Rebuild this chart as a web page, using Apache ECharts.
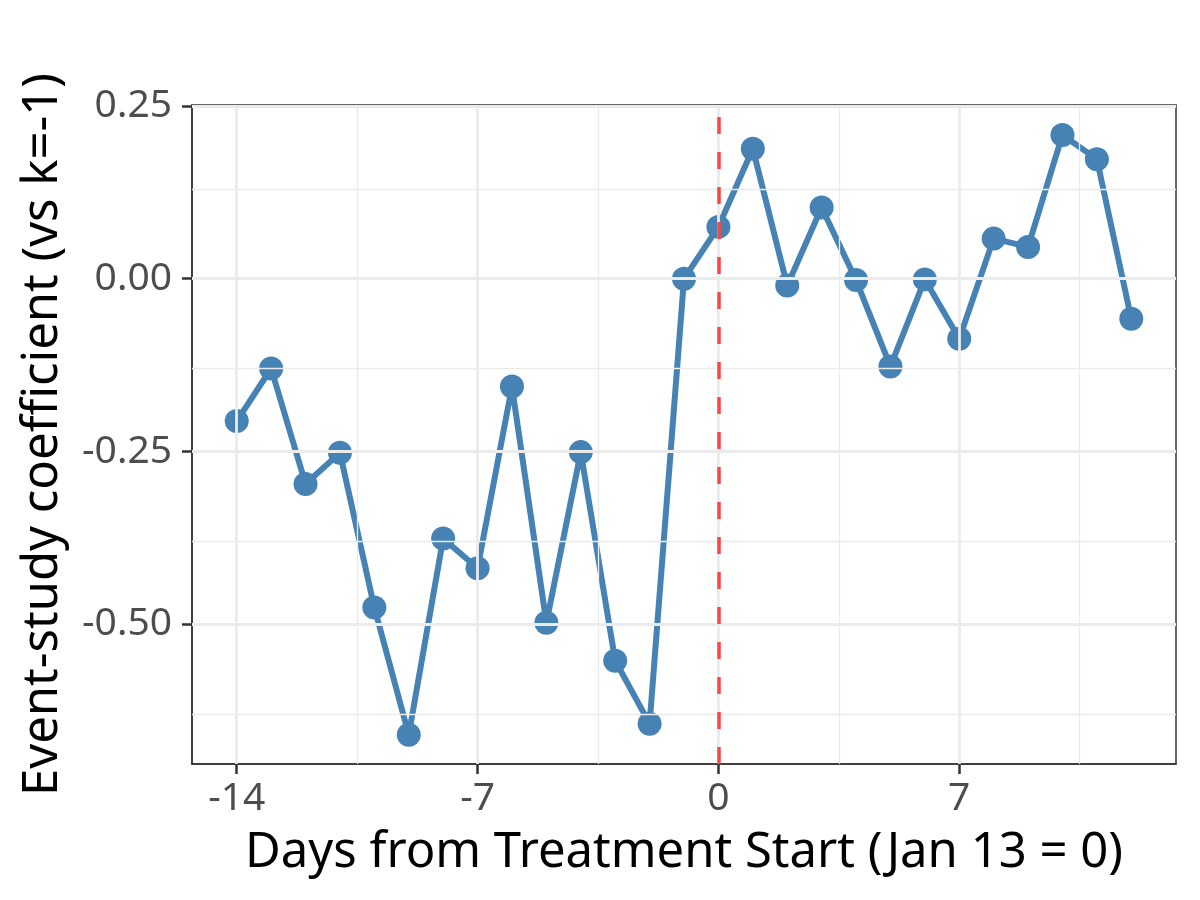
<!DOCTYPE html>
<html>
<head>
<meta charset="utf-8">
<script src="https://cdn.jsdelivr.net/npm/echarts@6/dist/echarts.min.js"></script>
<style>html,body{margin:0;padding:0;background:#fff}#c{width:1200px;height:900px}</style>
</head>
<body>
<div id="c"></div>
<script>
const days = [-14,-13,-12,-11,-10,-9,-8,-7,-6,-5,-4,-3,-2,-1,0,1,2,3,4,5,6,7,8,9,10,11,12];
const coef = [-0.206,-0.130,-0.297,-0.252,-0.476,-0.660,-0.376,-0.419,-0.156,-0.498,-0.251,-0.553,-0.644,0.000,0.075,0.188,-0.010,0.103,-0.002,-0.127,-0.001,-0.087,0.058,0.046,0.208,0.173,-0.058];
const xTicks = [-14,-7,0,7];
const xMinor = [-10.5,-3.5,3.5,10.5];
const yTicks = [-0.5,-0.25,0,0.25];
const yMinor = [-0.625,-0.375,-0.125,0.125];
const treatDay = 0;
const xRange = [-15.3, 13.3];
const yRange = [-0.7024, 0.2514];

const FONT = '"Noto Sans",sans-serif';
const GRID = '#ebebeb';

const gridLines = [];
xMinor.forEach(v => gridLines.push({xAxis: v, lineStyle: {color: GRID, width: 1.3, type: 'solid'}}));
yMinor.forEach(v => gridLines.push({yAxis: v, lineStyle: {color: GRID, width: 1.3, type: 'solid'}}));
xTicks.forEach(v => gridLines.push({xAxis: v, lineStyle: {color: GRID, width: 2.8, type: 'solid'}}));
yTicks.forEach(v => gridLines.push({yAxis: v, lineStyle: {color: GRID, width: 2.8, type: 'solid'}}));

const chart = echarts.init(document.getElementById('c'), null, {renderer: 'canvas'});
chart.setOption({
  animation: false,
  backgroundColor: '#fff',
  grid: {left: 192, top: 105, right: 24, bottom: 136, show: true, borderColor: '#333', borderWidth: 1.5, backgroundColor: 'transparent'},
  xAxis: {
    type: 'value', min: xRange[0], max: xRange[1],
    name: 'Days from Treatment Start (Jan 13 = 0)', nameLocation: 'middle', nameGap: 65,
    nameTextStyle: {fontFamily: FONT, fontSize: 49, color: '#000'},
    axisLine: {show: true, onZero: false, lineStyle: {color: '#333', width: 1.5}},
    axisTick: {show: true, length: 10, customValues: xTicks, lineStyle: {color: '#333', width: 2.5}},
    axisLabel: {customValues: xTicks, margin: 15, fontFamily: FONT, fontSize: 39, color: '#4d4d4d', formatter: v => String(v)},
    splitLine: {show: false}
  },
  yAxis: {
    type: 'value', min: yRange[0], max: yRange[1],
    name: 'Event-study coefficient (vs k=-1)', nameLocation: 'middle', nameGap: 124,
    nameTextStyle: {fontFamily: FONT, fontSize: 49, color: '#000'},
    axisLine: {show: true, onZero: false, lineStyle: {color: '#333', width: 1.5}},
    axisTick: {show: true, length: 10, customValues: yTicks, lineStyle: {color: '#333', width: 2.5}},
    axisLabel: {customValues: yTicks, margin: 20, fontFamily: FONT, fontSize: 39, color: '#4d4d4d', formatter: v => v.toFixed(2)},
    splitLine: {show: false}
  },
  series: [
    {
      type: 'line', data: [], z: 1, silent: true,
      markLine: {silent: true, symbol: 'none', label: {show: false}, animation: false, data: gridLines}
    },
    {
      type: 'line', data: [], z: 2, silent: true,
      markLine: {silent: true, symbol: 'none', label: {show: false}, animation: false,
        data: [{xAxis: treatDay, lineStyle: {color: '#ff4444', width: 3.5, type: [17, 18]}}]}
    },
    {
      type: 'line', z: 3,
      data: days.map((d, i) => [d, coef[i]]),
      symbol: 'circle', symbolSize: 24,
      lineStyle: {color: '#4682b4', width: 6},
      itemStyle: {color: '#4682b4'}
    }
  ]
});
</script>
</body>
</html>
